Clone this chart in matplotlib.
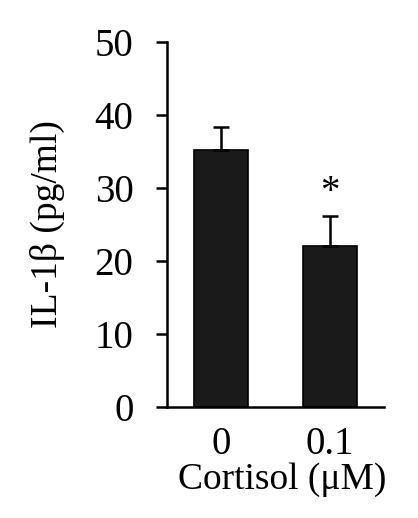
import matplotlib
matplotlib.use('Agg')
import matplotlib.pyplot as plt
import numpy as np

# データ
groups = ["0", "0.1"]
il1b = [35.2, 22.0]
il1b_err = [3.2, 4.2]
sig_marks = ["", "*"]

plt.rcParams['font.family'] = ['Liberation Serif', 'DejaVu Serif']

fig = plt.figure(figsize=(4.18, 5.18), dpi=100)
ax = fig.add_axes([0.399, 0.215, 0.52, 0.703])

x = np.arange(len(groups))
ax.bar(x, il1b, width=0.5, color="#1a1a1a", edgecolor="black", linewidth=1.2,
       yerr=[np.zeros(len(il1b)), il1b_err],
       error_kw=dict(ecolor="black", elinewidth=1.8, capsize=6, capthick=1.8))

for xi, v, e, m in zip(x, il1b, il1b_err, sig_marks):
    if m:
        ax.text(xi, v + e + 0.6, m, ha='center', va='bottom', fontsize=28)

ax.set_xlim(-0.5, 1.5)
ax.set_ylim(0, 50)
ax.set_yticks([0, 10, 20, 30, 40, 50])
ax.set_xticks(x)
ax.set_xticklabels(groups)
ax.tick_params(axis='y', direction='out', length=8, width=1.8, labelsize=28, pad=16)
ax.tick_params(axis='x', length=0, labelsize=28, pad=14)
for s in ['top', 'right']:
    ax.spines[s].set_visible(False)
for s in ['left', 'bottom']:
    ax.spines[s].set_linewidth(1.8)

ax.set_ylabel("IL-1β (pg/ml)", fontsize=27, va='center')
ax.yaxis.set_label_coords(-0.551, 0.5)
ax.set_xlabel("Cortisol (μM)", fontsize=27, va='center')
ax.xaxis.set_label_coords(0.53, -0.201)

fig.savefig("out.png", dpi=100)
